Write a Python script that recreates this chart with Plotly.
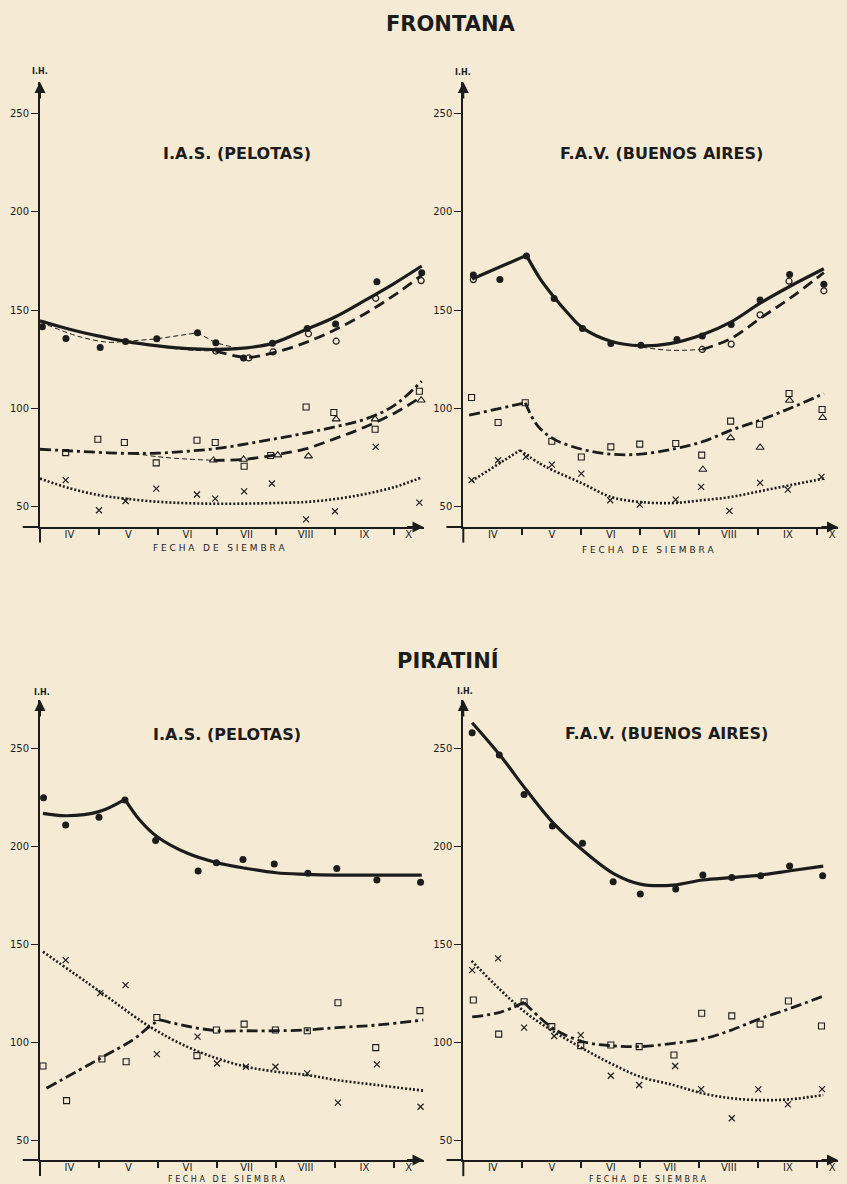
import plotly.graph_objects as go

W, H = 847, 1184
BG = "#f5ebd4"
INK = "#1c1c1c"

# ---------------- axis labels ----------------
month_labels = ["IV", "V", "VI", "VII", "VIII", "IX", "X"]
month_label_pos = [0.5, 1.5, 2.5, 3.5, 4.5, 5.5, 6.25]
month_bounds = [1, 2, 3, 4, 5, 6]
y_tick_vals = [50, 100, 150, 200, 250]
y_tick_text = ["50", "100", "150", "200", "250"]

# ================= FRONTANA - I.A.S. (PELOTAS) =================
fi_dots_x = [0.04, 0.44, 1.02, 1.45, 1.98, 2.67, 2.98, 3.45, 3.94, 4.53, 5.01, 5.71, 6.47]
fi_dots_y = [141.5, 135.6, 131.0, 134.1, 135.4, 138.5, 133.4, 125.7, 133.1, 140.7, 142.9, 164.4, 169.0]
fi_circ_x = [2.98, 3.54, 3.95, 4.55, 5.02, 5.69, 6.46]
fi_circ_y = [129.2, 125.7, 128.8, 138.0, 134.2, 156.0, 165.0]
fi_sq_x = [0.435, 0.98, 1.43, 1.97, 2.66, 2.97, 3.46, 3.91, 4.51, 4.98, 5.68, 6.43]
fi_sq_y = [77.6, 84.4, 82.7, 72.4, 83.9, 82.7, 70.7, 76.1, 100.8, 98.0, 89.5, 108.8]
fi_tri_x = [2.94, 3.45, 4.03, 4.55, 5.02, 5.68, 6.46]
fi_tri_y = [73.7, 74.1, 76.3, 75.8, 94.6, 94.6, 104.2]
fi_x_x = [0.435, 1.0, 1.45, 1.97, 2.66, 2.97, 3.46, 3.93, 4.51, 5.0, 5.69, 6.43]
fi_x_y = [63.6, 48.3, 53.0, 59.3, 56.3, 54.2, 57.9, 61.9, 43.7, 47.8, 80.5, 52.2]
# fitted curves
fi_solid_x = [0.0, 0.5, 1.0, 1.45, 2.0, 2.5, 3.0, 3.5, 3.94, 4.5, 5.0, 5.5, 6.0, 6.47]
fi_solid_y = [144.6, 140.3, 136.8, 134.1, 131.8, 130.4, 130.0, 130.8, 133.1, 140.0, 146.5, 154.8, 163.5, 172.4]
fi_circ_thin_x = [0.0, 0.68, 1.19, 1.45, 2.0, 2.5, 2.98]
fi_circ_thin_y = [144.0, 136.4, 133.6, 134.0, 131.5, 129.8, 129.2]
fi_circ_fit_x = [2.98, 3.5, 3.95, 4.5, 5.0, 5.5, 6.0, 6.47]
fi_circ_fit_y = [129.2, 126.0, 128.3, 133.5, 140.0, 148.0, 157.5, 167.8]
fi_dots_thin_x = [1.45, 1.98, 2.67, 2.98, 3.35]
fi_dots_thin_y = [134.1, 135.4, 138.5, 133.4, 130.5]
fi_sq_fit_x = [0.0, 0.5, 1.0, 1.5, 2.0, 2.5, 3.0, 3.5, 4.0, 4.5, 5.0, 5.5, 6.0, 6.47]
fi_sq_fit_y = [79.3, 78.5, 77.7, 77.2, 77.3, 78.3, 79.7, 82.0, 84.7, 87.5, 90.7, 94.5, 101.5, 113.9]
fi_tri_thin_x = [1.6, 2.0, 2.5, 2.94]
fi_tri_thin_y = [77.2, 75.5, 74.3, 73.7]
fi_tri_fit_x = [2.94, 3.45, 4.0, 4.5, 5.0, 5.5, 6.0, 6.47]
fi_tri_fit_y = [73.7, 74.1, 76.5, 79.5, 84.7, 90.5, 97.5, 106.0]
fi_x_fit_x = [0.0, 0.5, 1.0, 1.45, 2.0, 2.5, 3.0, 3.5, 4.0, 4.5, 5.0, 5.5, 6.0, 6.47]
fi_x_fit_y = [64.4, 59.5, 56.0, 54.2, 52.6, 51.9, 51.6, 51.7, 52.0, 52.5, 54.0, 56.5, 60.0, 65.0]

# ================= FRONTANA - F.A.V. (BUENOS AIRES) =================
ff_dots_x = [0.17, 0.62, 1.07, 1.54, 2.02, 2.5, 3.01, 3.62, 4.05, 4.54, 5.03, 5.53, 6.11]
ff_dots_y = [167.8, 165.6, 177.5, 155.9, 140.7, 133.0, 132.2, 135.1, 136.8, 142.7, 155.1, 168.1, 163.2]
ff_circ_x = [0.17, 4.05, 4.54, 5.03, 5.52, 6.11]
ff_circ_y = [165.5, 130.0, 132.7, 147.6, 164.7, 159.8]
ff_sq_x = [0.14, 0.59, 1.05, 1.5, 2.0, 2.5, 2.99, 3.6, 4.04, 4.53, 5.02, 5.52, 6.08]
ff_sq_y = [105.6, 92.9, 102.9, 83.4, 75.4, 80.5, 81.9, 82.2, 76.3, 93.6, 92.0, 107.6, 99.5]
ff_tri_x = [4.06, 4.53, 5.03, 5.53, 6.09]
ff_tri_y = [69.0, 85.1, 80.2, 104.1, 95.3]
ff_x_x = [0.14, 0.59, 1.06, 1.5, 2.0, 2.49, 2.99, 3.6, 4.03, 4.51, 5.03, 5.5, 6.07]
ff_x_y = [63.6, 73.7, 75.4, 71.5, 66.9, 53.4, 51.2, 53.7, 60.2, 48.0, 62.2, 58.8, 65.3]
ff_solid_a_x = [0.15, 1.07]
ff_solid_a_y = [165.8, 177.8]
ff_solid_b_x = [1.07, 1.3, 1.54, 1.8, 2.02, 2.5, 3.0, 3.5, 4.05, 4.54, 5.03, 5.53, 6.11]
ff_solid_b_y = [177.8, 166.0, 156.5, 147.5, 141.0, 134.2, 131.9, 133.0, 137.5, 144.0, 153.5, 162.0, 171.0]
ff_circ_thin_x = [2.5, 3.0, 3.5, 4.05]
ff_circ_thin_y = [134.0, 131.3, 129.6, 130.0]
ff_circ_fit_x = [4.05, 4.54, 5.03, 5.53, 6.11]
ff_circ_fit_y = [130.0, 135.6, 145.8, 155.9, 169.0]
ff_sq_a_x = [0.1, 1.05]
ff_sq_a_y = [96.6, 102.9]
ff_sq_b_x = [1.05, 1.24, 1.52, 2.02, 2.5, 3.0, 3.6, 4.05, 4.54, 5.03, 5.53, 6.11]
ff_sq_b_y = [102.9, 92.0, 84.7, 79.2, 76.8, 76.8, 79.7, 83.1, 89.0, 94.1, 100.0, 107.6]
ff_x_a_x = [0.14, 0.96]
ff_x_a_y = [63.1, 78.8]
ff_x_b_x = [0.96, 1.3, 1.52, 2.02, 2.5, 3.0, 3.55, 4.05, 4.54, 5.03, 5.53, 6.11]
ff_x_b_y = [78.8, 72.0, 68.6, 61.9, 55.1, 52.5, 52.0, 53.4, 55.1, 58.0, 61.0, 64.4]

# ================= PIRATINI - I.A.S. (PELOTAS) =================
pi_dots_x = [0.06, 0.435, 1.0, 1.44, 1.96, 2.68, 2.99, 3.44, 3.97, 4.54, 5.03, 5.71, 6.45]
pi_dots_y = [224.8, 210.9, 214.8, 223.6, 202.9, 187.4, 191.6, 193.3, 190.9, 186.2, 188.7, 182.8, 181.6]
pi_sq_x = [0.05, 0.45, 1.05, 1.46, 1.98, 2.66, 2.99, 3.46, 3.99, 4.53, 5.05, 5.69, 6.44]
pi_sq_y = [87.8, 70.1, 91.4, 90.0, 112.6, 93.1, 106.2, 109.2, 106.2, 105.8, 120.1, 97.2, 116.1]
pi_x_x = [0.435, 1.02, 1.45, 1.98, 2.67, 3.0, 3.49, 3.99, 4.53, 5.05, 5.71, 6.45]
pi_x_y = [141.9, 125.0, 129.1, 93.9, 102.8, 89.1, 87.4, 87.4, 84.0, 69.1, 88.6, 67.0]
pi_solid_a_x = [0.05, 0.45, 1.0, 1.44]
pi_solid_a_y = [216.8, 215.6, 217.7, 224.0]
pi_solid_b_x = [1.44, 1.69, 1.98, 2.5, 3.0, 3.5, 4.0, 4.5, 5.0, 5.7, 6.47]
pi_solid_b_y = [224.0, 213.4, 205.0, 196.4, 191.6, 188.7, 186.5, 185.7, 185.3, 185.3, 185.3]
pi_sq_a_x = [0.11, 1.02, 1.58, 1.86, 2.03]
pi_sq_a_y = [76.4, 91.7, 101.3, 108.1, 111.3]
pi_sq_b_x = [2.03, 2.5, 3.0, 3.5, 4.0, 4.53, 5.03, 5.71, 6.5]
pi_sq_b_y = [111.3, 108.1, 105.8, 105.8, 105.8, 106.2, 107.4, 108.7, 111.3]
pi_x_fit_x = [0.05, 1.02, 1.86, 2.49, 3.0, 3.5, 4.0, 4.53, 5.03, 5.71, 6.5]
pi_x_fit_y = [146.2, 125.7, 107.9, 97.7, 91.7, 87.4, 84.9, 83.2, 80.6, 78.1, 75.2]

# ================= PIRATINI - F.A.V. (BUENOS AIRES) =================
pf_dots_x = [0.15, 0.61, 1.03, 1.51, 2.02, 2.54, 3.0, 3.6, 4.06, 4.55, 5.04, 5.53, 6.09]
pf_dots_y = [258.0, 246.6, 226.5, 210.3, 201.5, 181.9, 175.6, 178.2, 185.3, 184.0, 185.0, 189.9, 185.0]
pf_sq_x = [0.17, 0.6, 1.03, 1.5, 1.99, 2.5, 2.98, 3.57, 4.04, 4.55, 5.03, 5.51, 6.07]
pf_sq_y = [121.5, 104.1, 120.6, 107.9, 98.2, 98.5, 97.7, 93.4, 114.7, 113.4, 109.2, 121.0, 108.2]
pf_x_x = [0.15, 0.59, 1.03, 1.54, 1.99, 2.5, 2.98, 3.59, 4.03, 4.55, 5.0, 5.5, 6.08]
pf_x_y = [136.8, 142.8, 107.4, 103.1, 103.6, 82.8, 78.1, 87.8, 76.0, 61.1, 75.9, 68.2, 76.0]
pf_solid_x = [0.15, 0.62, 1.07, 1.53, 2.02, 2.54, 3.0, 3.56, 4.06, 4.55, 5.04, 5.54, 6.1]
pf_solid_y = [263.1, 246.6, 228.7, 211.7, 198.1, 186.2, 180.7, 180.2, 182.8, 184.0, 185.3, 187.5, 189.9]
pf_sq_a_x = [0.15, 0.62, 1.03]
pf_sq_a_y = [112.9, 115.2, 120.3]
pf_sq_b_x = [1.03, 1.52, 2.02, 2.5, 2.99, 3.56, 4.06, 4.55, 5.04, 5.54, 6.1]
pf_sq_b_y = [120.3, 107.1, 100.3, 98.2, 97.7, 99.4, 101.6, 106.2, 112.1, 117.2, 123.5]
pf_x_fit_x = [0.14, 0.62, 1.07, 1.53, 2.02, 2.5, 3.0, 3.56, 4.06, 4.55, 5.04, 5.54, 6.1]
pf_x_fit_y = [141.5, 126.9, 114.7, 105.4, 96.8, 89.1, 82.3, 78.1, 73.8, 71.3, 70.4, 70.8, 73.0]

# ---------------- styles ----------------
SOLID = dict(color=INK, width=3.2)
DASHED = dict(color=INK, width=2.8, dash="11px,6px")
DASHDOT = dict(color=INK, width=2.8, dash="11px,4px,3px,4px")
DOTTED = dict(color=INK, width=2.6, dash="2px,2px")
THIN = dict(color=INK, width=1, dash="5px,3px")

MK = {
    "dot": dict(symbol="circle", size=7, color=INK),
    "circ": dict(symbol="circle-open", size=6, color=INK, line=dict(width=1.2, color=INK)),
    "sq": dict(symbol="square-open", size=6, color=INK, line=dict(width=1.1, color=INK)),
    "tri": dict(symbol="triangle-up-open", size=7, color=INK, line=dict(width=1.1, color=INK)),
    "x": dict(symbol="x-thin-open", size=6, color=INK, line=dict(width=1.2, color=INK)),
}

fig = go.Figure()


def add_line(ax, xs, ys, style, spline=True):
    fig.add_trace(go.Scatter(
        x=xs, y=ys, mode="lines", xaxis="x" + ax, yaxis="y" + ax,
        line=dict(style, shape="spline" if spline else "linear", smoothing=1.0),
        hoverinfo="skip", showlegend=False, cliponaxis=False))


def add_pts(ax, xs, ys, kind):
    fig.add_trace(go.Scatter(
        x=xs, y=ys, mode="markers", xaxis="x" + ax, yaxis="y" + ax,
        marker=MK[kind], showlegend=False, cliponaxis=False))


# panel 1
a = ""
add_line(a, fi_circ_thin_x, fi_circ_thin_y, THIN)
add_line(a, fi_dots_thin_x, fi_dots_thin_y, THIN, spline=False)
add_line(a, fi_tri_thin_x, fi_tri_thin_y, THIN)
add_line(a, fi_solid_x, fi_solid_y, SOLID)
add_line(a, fi_circ_fit_x, fi_circ_fit_y, DASHED)
add_line(a, fi_sq_fit_x, fi_sq_fit_y, DASHDOT)
add_line(a, fi_tri_fit_x, fi_tri_fit_y, DASHED)
add_line(a, fi_x_fit_x, fi_x_fit_y, DOTTED)
add_pts(a, fi_dots_x, fi_dots_y, "dot")
add_pts(a, fi_circ_x, fi_circ_y, "circ")
add_pts(a, fi_sq_x, fi_sq_y, "sq")
add_pts(a, fi_tri_x, fi_tri_y, "tri")
add_pts(a, fi_x_x, fi_x_y, "x")

# panel 2
a = "2"
add_line(a, ff_circ_thin_x, ff_circ_thin_y, THIN)
add_line(a, ff_solid_a_x, ff_solid_a_y, SOLID)
add_line(a, ff_solid_b_x, ff_solid_b_y, SOLID)
add_line(a, ff_circ_fit_x, ff_circ_fit_y, DASHED)
add_line(a, ff_sq_a_x, ff_sq_a_y, DASHDOT)
add_line(a, ff_sq_b_x, ff_sq_b_y, DASHDOT)
add_line(a, ff_x_a_x, ff_x_a_y, DOTTED)
add_line(a, ff_x_b_x, ff_x_b_y, DOTTED)
add_pts(a, ff_dots_x, ff_dots_y, "dot")
add_pts(a, ff_circ_x, ff_circ_y, "circ")
add_pts(a, ff_sq_x, ff_sq_y, "sq")
add_pts(a, ff_tri_x, ff_tri_y, "tri")
add_pts(a, ff_x_x, ff_x_y, "x")

# panel 3
a = "3"
add_line(a, pi_solid_a_x, pi_solid_a_y, SOLID)
add_line(a, pi_solid_b_x, pi_solid_b_y, SOLID)
add_line(a, pi_sq_a_x, pi_sq_a_y, DASHDOT)
add_line(a, pi_sq_b_x, pi_sq_b_y, DASHDOT)
add_line(a, pi_x_fit_x, pi_x_fit_y, DOTTED)
add_pts(a, pi_dots_x, pi_dots_y, "dot")
add_pts(a, pi_sq_x, pi_sq_y, "sq")
add_pts(a, pi_x_x, pi_x_y, "x")

# panel 4
a = "4"
add_line(a, pf_solid_x, pf_solid_y, SOLID)
add_line(a, pf_sq_a_x, pf_sq_a_y, DASHDOT)
add_line(a, pf_sq_b_x, pf_sq_b_y, DASHDOT)
add_line(a, pf_x_fit_x, pf_x_fit_y, DOTTED)
add_pts(a, pf_dots_x, pf_dots_y, "dot")
add_pts(a, pf_sq_x, pf_sq_y, "sq")
add_pts(a, pf_x_x, pf_x_y, "x")

# ---------------- axes ----------------
TOP_Y = [(H - 527) / H, (H - 82) / H]
BOT_Y = [(H - 1160) / H, (H - 700) / H]
LEFT_X = [40 / W, 423.5 / W]
RIGHT_X = [463.3 / W, 838 / W]

panels = {
    "": (LEFT_X, TOP_Y, [0, 6.5], [39.8, 265.9]),
    "2": (RIGHT_X, TOP_Y, [0, 6.35], [39.8, 265.9]),
    "3": (LEFT_X, BOT_Y, [0, 6.5], [39.8, 274.7]),
    "4": (RIGHT_X, BOT_Y, [0, 6.35], [39.8, 274.7]),
}

tick_font = dict(family="DejaVu Sans", size=10, color=INK)
layout_axes = {}
for k, (xd, yd, xr, yr) in panels.items():
    layout_axes["xaxis" + k] = dict(
        domain=xd, range=xr, anchor="y" + k, showgrid=False, zeroline=False,
        showline=True, linecolor=INK, linewidth=2,
        tickmode="array", tickvals=month_label_pos, ticktext=month_labels,
        ticks="", tickfont=tick_font, fixedrange=True, ticklabelstandoff=-3,
        minor=dict(tickmode="array", tickvals=month_bounds, ticks="outside",
                   ticklen=6, tickwidth=1.5, tickcolor=INK, showgrid=False),
    )
    layout_axes["yaxis" + k] = dict(
        domain=yd, range=yr, anchor="x" + k, showgrid=False, zeroline=False,
        showline=True, linecolor=INK, linewidth=2,
        tickmode="array", tickvals=y_tick_vals, ticktext=y_tick_text,
        ticks="outside", ticklen=7, tickwidth=1.3, tickcolor=INK,
        tickfont=tick_font, fixedrange=True,
    )

fig.update_layout(
    width=W, height=H, margin=dict(l=0, r=0, t=0, b=0),
    paper_bgcolor=BG, plot_bgcolor=BG, showlegend=False,
    **layout_axes,
)

title_font = dict(family="DejaVu Sans", size=21, color=INK, weight="bold")
sub_font = dict(family="DejaVu Sans", size=16, color=INK, weight="bold")
small_font = dict(family="DejaVu Sans", size=9, color=INK)
ih_font = dict(family="DejaVu Sans", size=8, color=INK, weight="bold")

ann = []


def paper_text(text, px, py, font):
    ann.append(dict(text=text, x=px / W, y=(H - py) / H, xref="paper", yref="paper",
                    showarrow=False, font=font, xanchor="center", yanchor="middle"))


paper_text("FRONTANA", 450, 24, title_font)
paper_text("PIRATINÍ", 448, 660, title_font)
paper_text("I.A.S. (PELOTAS)", 237, 154, sub_font)
paper_text("F.A.V. (BUENOS AIRES)", 661, 153, sub_font)
paper_text("I.A.S. (PELOTAS)", 227, 735, sub_font)
paper_text("F.A.V. (BUENOS AIRES)", 666, 733, sub_font)
paper_text("F E C H A   D E   S I E M B R A", 220, 548, small_font)
paper_text("F E C H A   D E   S I E M B R A", 648, 550, small_font)
paper_text("F E C H A   D E   S I E M B R A", 227, 1179, dict(small_font, size=8))
paper_text("F E C H A   D E   S I E M B R A", 648, 1179, dict(small_font, size=8))
paper_text("I.H.", 40, 71, ih_font)
paper_text("I.H.", 463, 72, ih_font)
paper_text("I.H.", 42, 692, ih_font)
paper_text("I.H.", 465, 691, ih_font)

shapes = []
for k in panels:
    xr = ("x" + k + " domain") if k else "x domain"
    yr = ("y" + k + " domain") if k else "y domain"
    # arrow heads on the axes
    ann.append(dict(x=0, y=1, xref=xr, yref=yr, ax=0, ay=18, text="", showarrow=True,
                    arrowhead=2, arrowsize=1.1, arrowwidth=2, arrowcolor=INK))
    ann.append(dict(x=1, y=0, xref=xr, yref=yr, ax=-18, ay=0, text="", showarrow=True,
                    arrowhead=2, arrowsize=1.1, arrowwidth=2, arrowcolor=INK))
    # axis extensions beyond the origin
    shapes.append(dict(type="line", xref=xr, yref=yr, x0=0, x1=0, y0=0, y1=-0.035,
                       line=dict(color=INK, width=2)))
    shapes.append(dict(type="line", xref=xr, yref=yr, x0=-0.045, x1=0, y0=0, y1=0,
                       line=dict(color=INK, width=2)))

fig.update_layout(annotations=ann, shapes=shapes)
fig.write_html("out.html")
